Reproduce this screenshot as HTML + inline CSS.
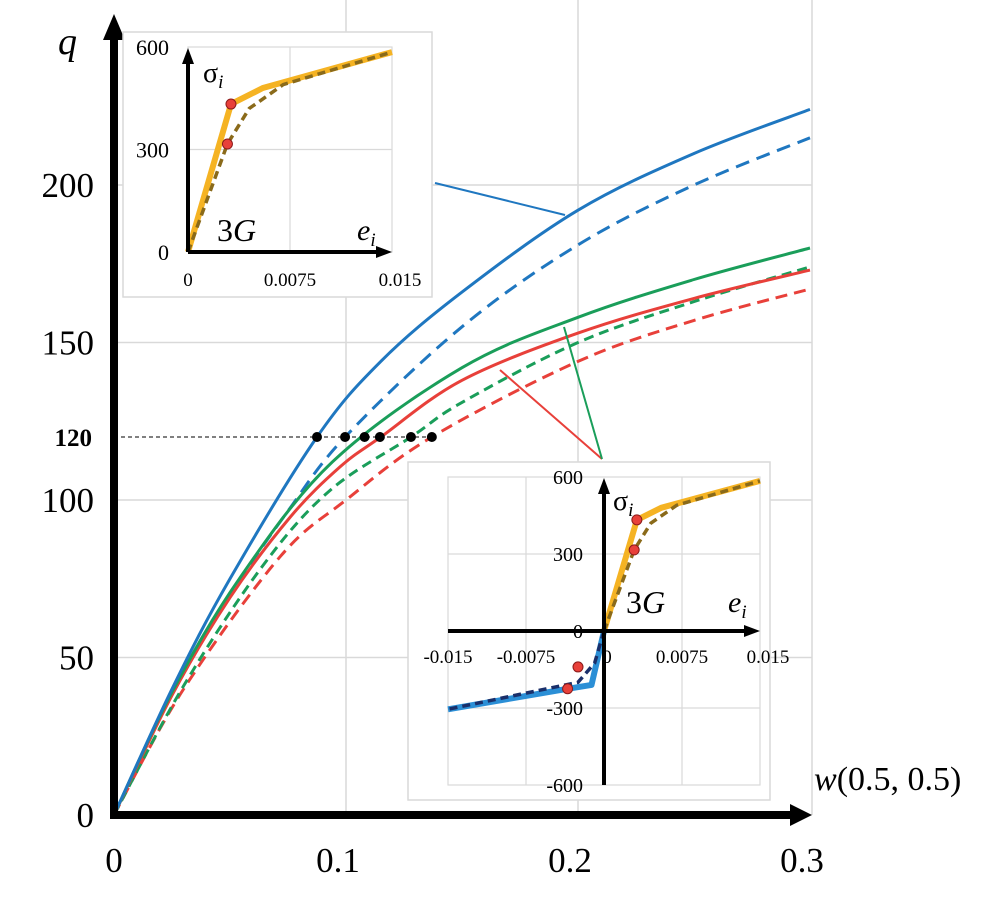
<!DOCTYPE html>
<html><head><meta charset="utf-8"><style>
html,body{margin:0;padding:0;background:#fff}
svg{display:block;font-family:"Liberation Serif",serif}
</style></head><body>
<svg id="c" width="1004" height="903" viewBox="0 0 1004 903" xmlns="http://www.w3.org/2000/svg">
<g id="main"></g>
</svg>
<script>
// ---- main chart data ----
const wTicks=[0,0.1,0.2,0.3];
const wTickLabels=["0","0.1","0.2","0.3"];
const qTicks=[0,50,100,150,200];
const qTickLabels=["0","50","100","150","200"];
const blueSolidW=[0,0.025,0.05,0.0875,0.115,0.15,0.2,0.25,0.3];
const blueSolidQ=[0,40,75,120,144,166,192,210,224];
const blueDashW=[0,0.025,0.05,0.0745,0.0996,0.15,0.2,0.25,0.3];
const blueDashQ=[0,39,70,96,120,155,181,200,215];
const greenSolidW=[0,0.025,0.054,0.094,0.15,0.2,0.25,0.3];
const greenSolidQ=[0,39,75,112,142,158,170,180];
const redSolidW=[0,0.025,0.05,0.076,0.0974,0.115,0.15,0.2,0.25,0.3];
const redSolidQ=[0,38,69,94.6,110.5,120,138,153,164,173];
const greenDashW=[0,0.03,0.064,0.093,0.128,0.15,0.2,0.25,0.3];
const greenDashQ=[0,41,79,103,120,131,150,163,174];
const redDashW=[0,0.03,0.0716,0.1,0.137,0.2,0.25,0.3];
const redDashQ=[0,40,82,100,120,144,157,167];
const refQ=120;
const dotW=[0.0875,0.0996,0.108,0.1146,0.128,0.137];
// ---- inset data ----
const insetTicksE=[0,0.0075,0.015];
const insetTickLabelsE=["0","0.0075","0.015"];
const insetTicksS=[0,300,600];
const insetTickLabelsS=["0","300","600"];
const elasticE=[0,0.00316,0.0055,0.015];
const elasticS=[0,433,480,585];
const dashE=[0,0.0029,0.0045,0.007,0.015];
const dashS=[0,316,420,490,585];
const yieldE=[0.00316,0.0029];
const yieldS=[433,316];
const insetTicksE2=[-0.015,-0.0075,0,0.0075,0.015];
const insetTickLabelsE2=["-0.015","-0.0075","0","0.0075","0.015"];
const insetTicksS2=[-600,-300,0,300,600];
const insetTickLabelsS2=["-600","-300","0","300","600"];
const compE=[0,-0.0012,-0.0035,-0.015];
const compS=[0,-210,-225,-305];
const compDashE=[0,-0.0009,-0.0025,-0.015];
const compDashS=[0,-125,-200,-305];
const compYieldE=[-0.0035,-0.0025];
const compYieldS=[-225,-140];

const NS="http://www.w3.org/2000/svg";
const root=document.getElementById('main');
function mk(tag,attrs,parent,txt){const e=document.createElementNS(NS,tag);for(const k in attrs)e.setAttribute(k,attrs[k]);if(txt!==undefined)e.textContent=txt;(parent||root).appendChild(e);return e;}
const X=w=>114+2320*w, Y=q=>815-3.15*q;
function pts(xs,ys,fx,fy){return xs.map((v,i)=>fx(v).toFixed(1)+','+fy(ys[i]).toFixed(1)).join(' ');}
function smooth(xs,ys,fx,fy){const P=xs.map((v,i)=>[fx(v),fy(ys[i])]);let d='M'+P[0][0].toFixed(1)+','+P[0][1].toFixed(1);
for(let i=0;i<P.length-1;i++){const p0=P[i-1]||P[i],p1=P[i],p2=P[i+1],p3=P[i+2]||P[i+1];
const c1=[p1[0]+(p2[0]-p0[0])/6,p1[1]+(p2[1]-p0[1])/6],c2=[p2[0]-(p3[0]-p1[0])/6,p2[1]-(p3[1]-p1[1])/6];
d+=' C'+c1.map(v=>v.toFixed(1)).join(',')+' '+c2.map(v=>v.toFixed(1)).join(',')+' '+p2.map(v=>v.toFixed(1)).join(',');}return d;}

// gridlines
mk('line',{x1:812,x2:812,y1:0,y2:815,stroke:'#d9d9d9','stroke-width':1.5});
for(const t of wTicks){if(t===0||t===0.3)continue;const g=mk('line',{x1:X(t),x2:X(t),y1:0,y2:815,stroke:'#d9d9d9','stroke-width':1.5});

}
for(const t of qTicks){if(t===0)continue;const g=mk('line',{x1:114,x2:812,y1:Y(t),y2:Y(t),stroke:'#d9d9d9','stroke-width':1.5});

}

// reference line
const rl=mk('line',{x1:114,x2:X(dotW[dotW.length-1]),y1:Y(refQ),y2:Y(refQ),stroke:'#000','stroke-width':1,'stroke-dasharray':'4,3'});



function series(xs,ys,color,dash,name){const p=mk('path',{d:smooth(xs,ys,X,Y),fill:'none',stroke:color,'stroke-width':3,'stroke-linejoin':'round'});if(dash)p.setAttribute('stroke-dasharray',dash);

}
series(redDashW,redDashQ,'#e8403a','12,7','red-dashed-curve');
series(greenDashW,greenDashQ,'#1a9e5a','10,6','green-dashed-curve');
series(blueDashW,blueDashQ,'#1f77c0','14,8','blue-dashed-curve');
series(redSolidW,redSolidQ,'#e8403a',null,'red-solid-curve');
series(greenSolidW,greenSolidQ,'#1a9e5a',null,'green-solid-curve');
series(blueSolidW,blueSolidQ,'#1f77c0',null,'blue-solid-curve');
for(const w of dotW){const d=mk('circle',{cx:X(w),cy:Y(refQ),r:5,fill:'#000'});

}

// pointer lines
const pb=mk('line',{x1:435,y1:183,x2:565,y2:215,stroke:'#1f77c0','stroke-width':2});

const pr=mk('line',{x1:500,y1:370,x2:602,y2:459,stroke:'#e8403a','stroke-width':2});

const pg=mk('line',{x1:564,y1:327,x2:602,y2:459,stroke:'#1a9e5a','stroke-width':2});


// axes
const xa=mk('line',{x1:110,y1:815,x2:795,y2:815,stroke:'#000','stroke-width':8});

mk('path',{d:'M790,804 L812,815 L790,826 z',fill:'#000'});
const ya=mk('line',{x1:114,y1:819,x2:114,y2:35,stroke:'#000','stroke-width':8});

mk('path',{d:'M103,40 L114,14 L125,40 z',fill:'#000'});

for(let i=0;i<wTicks.length;i++){const t=mk('text',{x:X(wTicks[i])-(i?8:0),y:872,'font-size':35,'text-anchor':'middle'},root,wTickLabels[i]);
}
for(let i=0;i<qTicks.length;i++){const t=mk('text',{x:94,y:Y(qTicks[i])+12,'font-size':35,'text-anchor':'end'},root,qTickLabels[i]);
}
const t120=mk('text',{x:92,y:Y(refQ)+9,'font-size':25,'font-weight':'bold','text-anchor':'end'},root,'120');

const ql=mk('text',{x:58,y:54,'font-size':38,'font-style':'italic'},root,'q');

const wl=mk('text',{x:814,y:790,'font-size':34},root);

mk('tspan',{'font-style':'italic'},wl,'w');mk('tspan',{},wl,'(0.5, 0.5)');

// ---- top inset ----
const g1=mk('g',{});

mk('rect',{x:123,y:32,width:309,height:265,fill:'#fff',stroke:'#d9d9d9','stroke-width':1.5},g1);
const EX=e=>188+e/0.015*204, SY=s=>252-s/600*205;
mk('rect',{x:188,y:47,width:204,height:205,fill:'none',stroke:'#d9d9d9','stroke-width':1.2},g1);
mk('line',{x1:EX(0.0075),x2:EX(0.0075),y1:47,y2:252,stroke:'#d9d9d9','stroke-width':1.2},g1);
mk('line',{x1:188,x2:392,y1:SY(300),y2:SY(300),stroke:'#d9d9d9','stroke-width':1.2},g1);
mk('polyline',{points:pts(elasticE,elasticS,EX,SY),fill:'none',stroke:'#f5b323','stroke-width':6,'stroke-linejoin':'round'},g1);
mk('polyline',{points:pts(dashE,dashS,EX,SY),fill:'none',stroke:'#8a6a1a','stroke-width':3.5,'stroke-dasharray':'8,5'},g1);
mk('line',{x1:188,y1:252,x2:380,y2:252,stroke:'#000','stroke-width':4},g1);
mk('path',{d:'M376,246 L392,252 L376,258 z',fill:'#000'},g1);
mk('line',{x1:188,y1:252,x2:188,y2:60,stroke:'#000','stroke-width':4},g1);
mk('path',{d:'M182,64 L188,48 L194,64 z',fill:'#000'},g1);
for(let i=0;i<yieldE.length;i++)mk('circle',{cx:EX(yieldE[i]),cy:SY(yieldS[i]),r:5,fill:'#e8403a',stroke:'#8b1a1a','stroke-width':1},g1);
for(let i=0;i<insetTicksE.length;i++)mk('text',{x:EX(insetTicksE[i])+(i===2?8:0),y:286,'font-size':19,'text-anchor':'middle'},g1,insetTickLabelsE[i]);
for(let i=0;i<insetTicksS.length;i++)mk('text',{x:169,y:SY(insetTicksS[i])+8,'font-size':22,'text-anchor':'end'},g1,insetTickLabelsS[i]);
const s1=mk('text',{x:203,y:82,'font-size':28},g1);mk('tspan',{},s1,'σ');mk('tspan',{'font-style':'italic','font-size':19,dy:6},s1,'i');
const g1t=mk('text',{x:217,y:241,'font-size':32},g1);mk('tspan',{},g1t,'3');mk('tspan',{'font-style':'italic'},g1t,'G');
const e1=mk('text',{x:357,y:240,'font-size':30,'font-style':'italic'},g1);mk('tspan',{},e1,'e');mk('tspan',{'font-size':19,dy:6},e1,'i');

// ---- bottom inset ----
const g2=mk('g',{});

mk('rect',{x:408,y:462,width:362,height:338,fill:'#fff',stroke:'#d9d9d9','stroke-width':1.5},g2);
const EX2=e=>604+e/0.015*156, SY2=s=>631-s/600*154;
mk('rect',{x:448,y:477,width:312,height:308,fill:'none',stroke:'#d9d9d9','stroke-width':1.2},g2);
for(const t of [-0.0075,0.0075])mk('line',{x1:EX2(t),x2:EX2(t),y1:477,y2:785,stroke:'#d9d9d9','stroke-width':1.2},g2);
for(const t of [-300,300])mk('line',{x1:448,x2:760,y1:SY2(t),y2:SY2(t),stroke:'#d9d9d9','stroke-width':1.2},g2);
mk('polyline',{points:pts(elasticE,elasticS,EX2,SY2),fill:'none',stroke:'#f5b323','stroke-width':6,'stroke-linejoin':'round'},g2);
mk('polyline',{points:pts(dashE,dashS,EX2,SY2),fill:'none',stroke:'#8a6a1a','stroke-width':3.5,'stroke-dasharray':'8,5'},g2);
mk('polyline',{points:pts(compE,compS,EX2,SY2),fill:'none',stroke:'#2b8fd6','stroke-width':6,'stroke-linejoin':'round'},g2);
mk('polyline',{points:pts(compDashE,compDashS,EX2,SY2),fill:'none',stroke:'#1a2f6a','stroke-width':3.5,'stroke-dasharray':'8,5'},g2);
mk('line',{x1:448,y1:631,x2:748,y2:631,stroke:'#000','stroke-width':4},g2);
mk('path',{d:'M744,625 L760,631 L744,637 z',fill:'#000'},g2);
mk('line',{x1:604,y1:785,x2:604,y2:490,stroke:'#000','stroke-width':4},g2);
mk('path',{d:'M598,494 L604,478 L610,494 z',fill:'#000'},g2);
for(let i=0;i<yieldE.length;i++)mk('circle',{cx:EX2(yieldE[i]),cy:SY2(yieldS[i]),r:5,fill:'#e8403a',stroke:'#8b1a1a','stroke-width':1},g2);
for(let i=0;i<compYieldE.length;i++)mk('circle',{cx:EX2(compYieldE[i]),cy:SY2(compYieldS[i]),r:5,fill:'#e8403a',stroke:'#8b1a1a','stroke-width':1},g2);
for(let i=0;i<insetTicksE2.length;i++){if(insetTicksE2[i]===0)continue;mk('text',{x:EX2(insetTicksE2[i])+(i===4?8:0),y:663,'font-size':19,'text-anchor':'middle'},g2,insetTickLabelsE2[i]);}
mk('text',{x:607,y:663,'font-size':19,'text-anchor':'middle'},g2,'0');
for(let i=0;i<insetTicksS2.length;i++)mk('text',{x:583,y:SY2(insetTicksS2[i])+7,'font-size':20,'text-anchor':'end'},g2,insetTickLabelsS2[i]);
const s2=mk('text',{x:613,y:510,'font-size':28},g2);mk('tspan',{},s2,'σ');mk('tspan',{'font-style':'italic','font-size':19,dy:6},s2,'i');
const g2t=mk('text',{x:626,y:613,'font-size':32},g2);mk('tspan',{},g2t,'3');mk('tspan',{'font-style':'italic'},g2t,'G');
const e2=mk('text',{x:728,y:612,'font-size':30,'font-style':'italic'},g2);mk('tspan',{},e2,'e');mk('tspan',{'font-size':19,dy:6},e2,'i');
</script>
</body></html>
